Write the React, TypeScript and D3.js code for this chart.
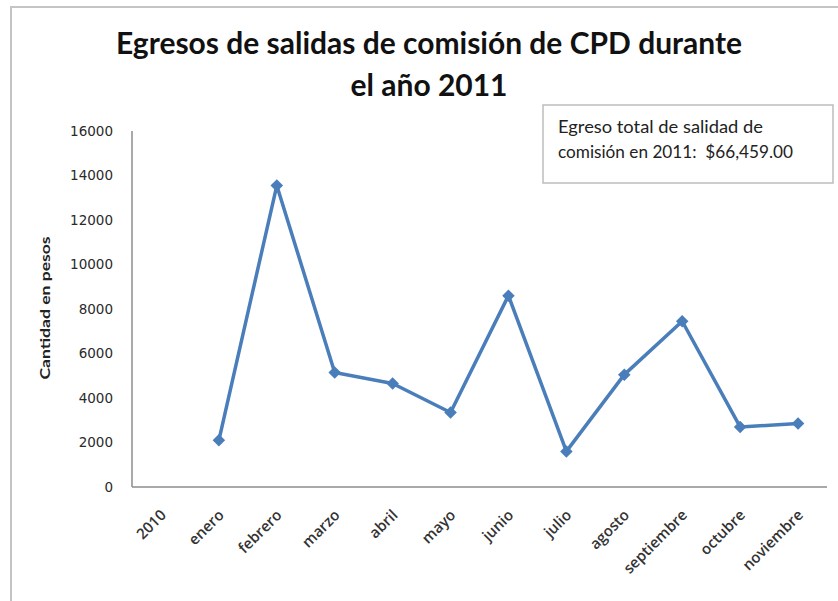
import React from "react";
import * as d3 from "d3";

const categories = ["2010", "enero", "febrero", "marzo", "abril", "mayo", "junio", "julio", "agosto", "septiembre", "octubre", "noviembre"];
const values: (number | null)[] = [null, 2100, 13550, 5150, 4650, 3350, 8600, 1600, 5050, 7450, 2700, 2850];
const yTicks = [0, 2000, 4000, 6000, 8000, 10000, 12000, 14000, 16000];
const titleLines = ["Egresos de salidas de comisión de CPD durante", "el año 2011"];
const noteLines = ["Egreso total de salidad de", "comisión en 2011:  $66,459.00"];
const yAxisTitle = "Cantidad en pesos";

const W = 838;
const H = 601;
const plot = { left: 132, right: 827, top: 131, bottom: 487 };

export default function App() {
  const x = d3.scaleBand<string>().domain(categories).range([plot.left, plot.right]);
  const y = d3.scaleLinear().domain([0, 16000]).range([plot.bottom, plot.top]);
  const cx = (c: string) => (x(c) as number) + x.bandwidth() / 2;

  const pts = categories
    .map((c, i) => ({ c, v: values[i] }))
    .filter((d) => d.v !== null) as { c: string; v: number }[];

  const line = d3
    .line<{ c: string; v: number }>()
    .x((d) => cx(d.c))
    .y((d) => y(d.v));

  const diamond = d3.symbol().type(d3.symbolDiamond2).size(100)() as string;

  const font = "Lato, 'Open Sans', sans-serif";

  return (
    <svg
      width={W}
      height={H}
      style={{ position: "absolute", left: 0, top: 0, background: "#fff" }}
    >
      {/* outer frame */}
      <rect x={11} y={7} width={W + 10} height={H + 10} fill="none" stroke="#c4c4c4" strokeWidth={2} />

      {/* title */}
      <text x={429} y={54} textAnchor="middle" fontFamily={font} fontWeight={700} fontSize={30} fill="#111"
        textLength={626} lengthAdjust="spacingAndGlyphs">
        {titleLines[0]}
      </text>
      <text x={429} y={96} textAnchor="middle" fontFamily={font} fontWeight={700} fontSize={30} fill="#111">
        {titleLines[1]}
      </text>

      {/* note box */}
      <rect x={543} y={105} width={290} height={78} fill="#fff" stroke="#bdbdbd" strokeWidth={1.5} />
      <text x={558} y={133} fontFamily={font} fontSize={17} fill="#222" textLength={205} lengthAdjust="spacingAndGlyphs">
        {noteLines[0]}
      </text>
      <text x={558} y={158} fontFamily={font} fontSize={17} fill="#222" textLength={235} lengthAdjust="spacingAndGlyphs"
        style={{ whiteSpace: "pre" }}>
        {noteLines[1]}
      </text>

      {/* y axis title */}
      <text
        transform={`translate(50,308) rotate(-90)`}
        textAnchor="middle"
        fontFamily={font}
        fontWeight={700}
        fontSize={14}
        fill="#222"
        textLength={143}
        lengthAdjust="spacingAndGlyphs"
      >
        {yAxisTitle}
      </text>

      {/* axes */}
      <line x1={plot.left} x2={plot.left} y1={y(16000)} y2={y(0)} stroke="#8c8c8c" strokeWidth={1.5} />
      <line x1={plot.left} x2={plot.right} y1={y(0)} y2={y(0)} stroke="#8c8c8c" strokeWidth={1.5} />

      {yTicks.map((t) => (
        <text key={t} x={113} y={y(t)} dy="0.36em" textAnchor="end" fontFamily="'DejaVu Sans', sans-serif"
          fontSize={13.5} fill="#2a2a2a">
          {t}
        </text>
      ))}

      {categories.map((c) => (
        <text
          key={c}
          transform={`translate(${cx(c) + 6},516) rotate(-45)`}
          textAnchor="end"
          fontFamily="'Open Sans', sans-serif"
          fontSize={15}
          fontWeight={600}
          fill="#333"
        >
          {c}
        </text>
      ))}

      {/* series */}
      <path d={line(pts) as string} fill="none" stroke="#4A7EBB" strokeWidth={3.5} strokeLinejoin="round" />
      {pts.map((d) => (
        <path key={d.c} d={diamond} transform={`translate(${cx(d.c)},${y(d.v)})`} fill="#4A7EBB" />
      ))}
    </svg>
  );
}
